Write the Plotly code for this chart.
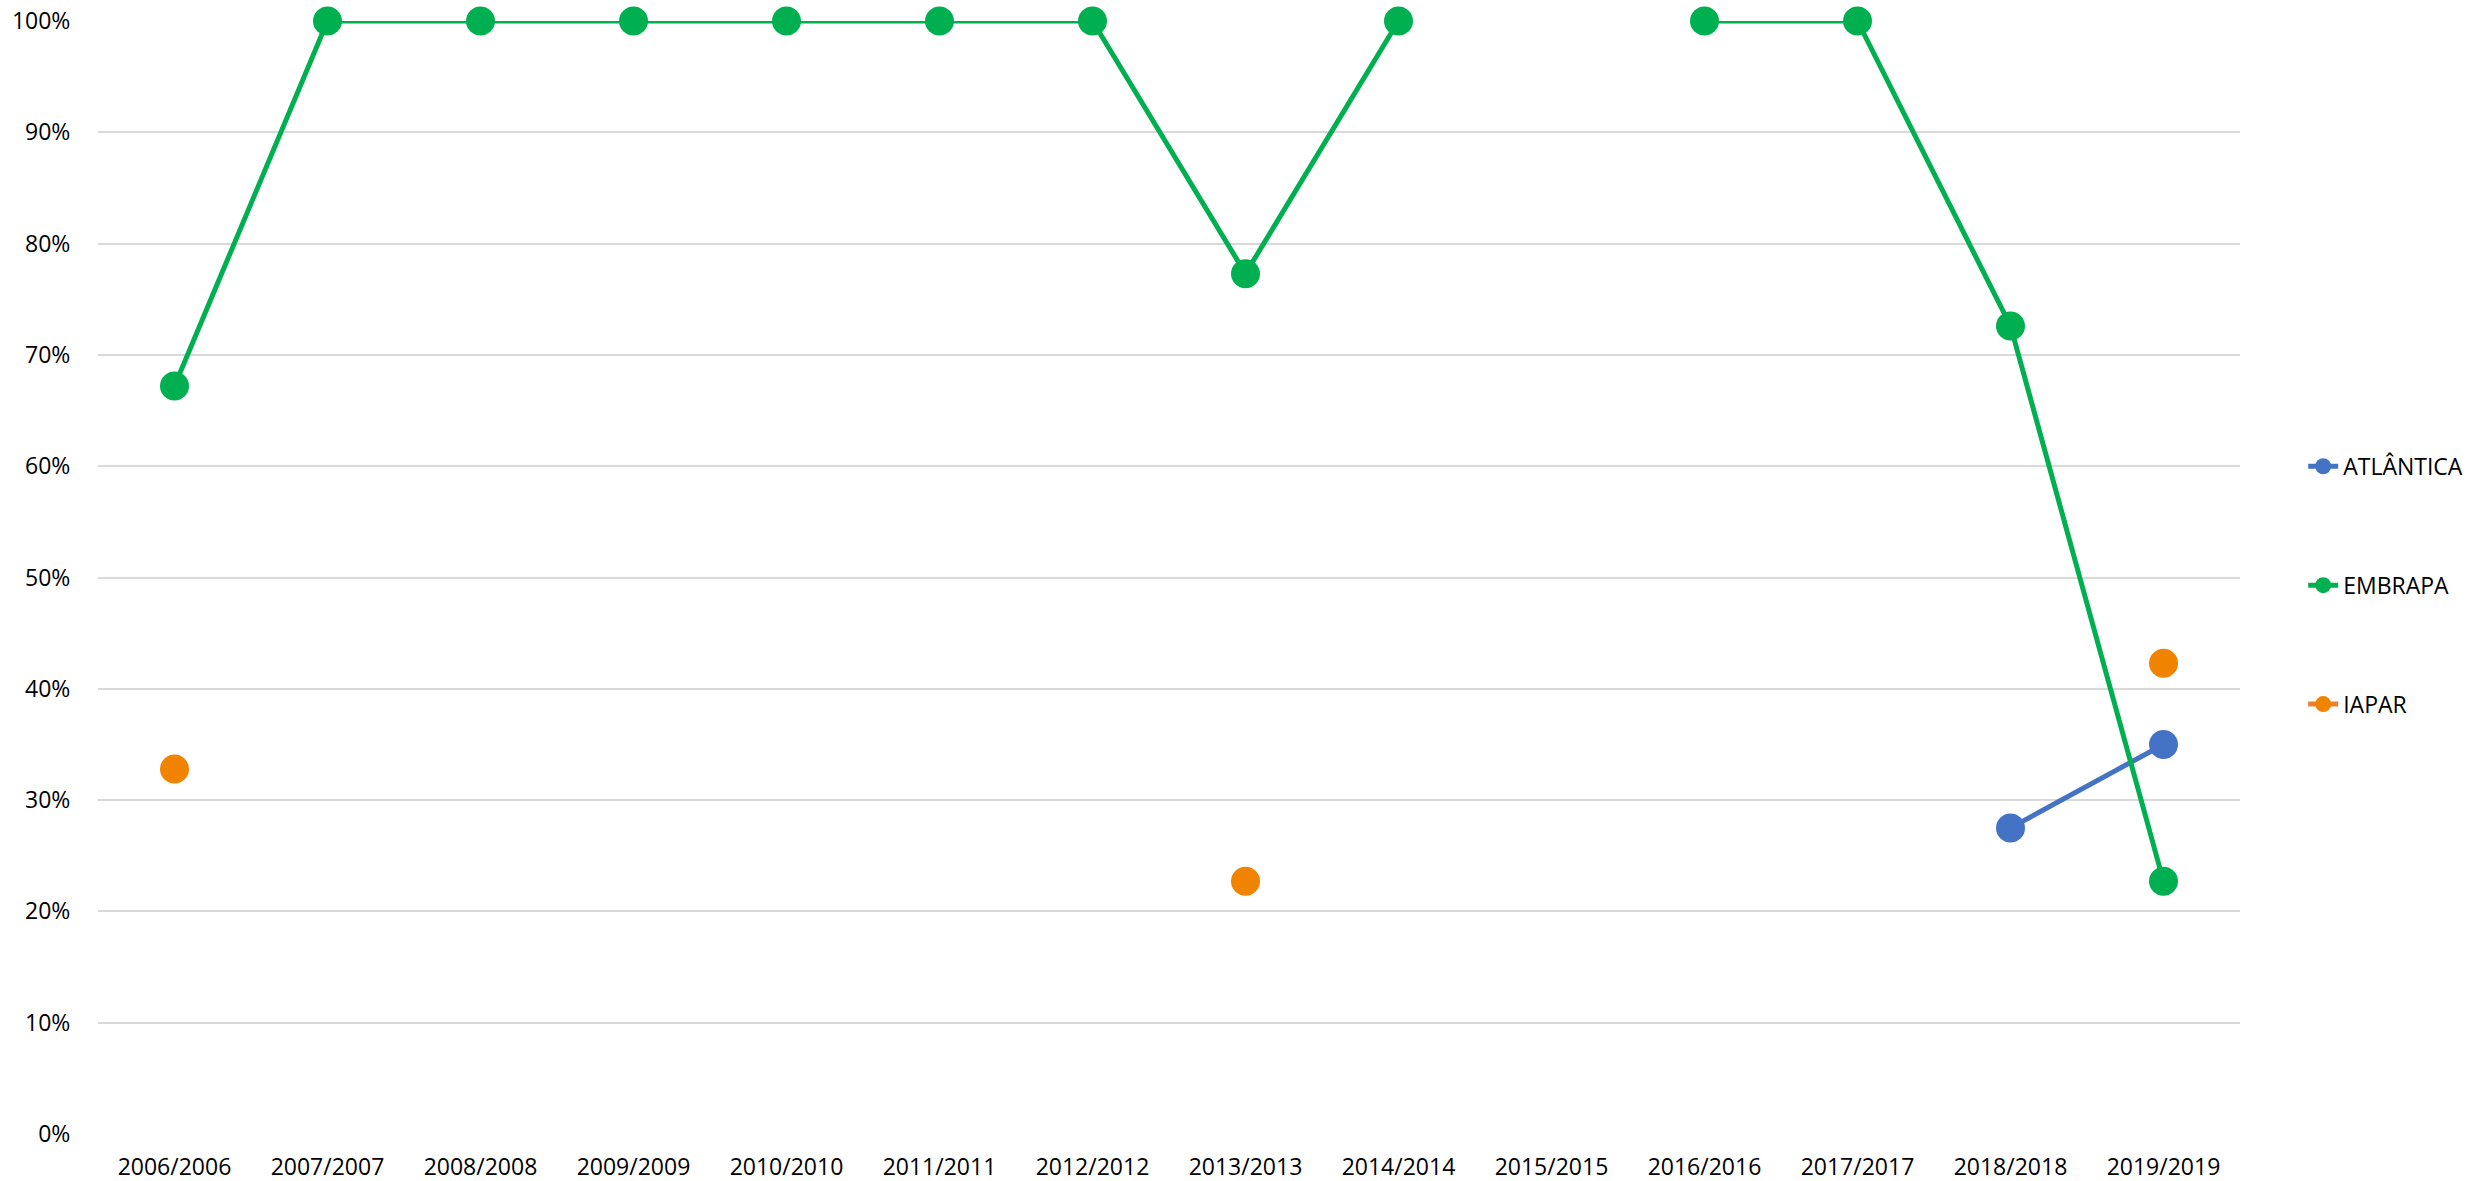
import plotly.graph_objects as go

categories = ["2006/2006", "2007/2007", "2008/2008", "2009/2009", "2010/2010",
              "2011/2011", "2012/2012", "2013/2013", "2014/2014", "2015/2015",
              "2016/2016", "2017/2017", "2018/2018", "2019/2019"]

atlantica = [None, None, None, None, None, None, None, None, None, None, None, None, 0.275, 0.350]
embrapa = [0.672, 1.0, 1.0, 1.0, 1.0, 1.0, 1.0, 0.773, 1.0, None, 1.0, 1.0, 0.726, 0.227]
iapar = [0.328, None, None, None, None, None, None, 0.227, None, None, None, None, None, 0.423]

y_ticks = [0, 0.1, 0.2, 0.3, 0.4, 0.5, 0.6, 0.7, 0.8, 0.9, 1.0]
y_tick_labels = ["0%", "10%", "20%", "30%", "40%", "50%", "60%", "70%", "80%", "90%", "100%"]

series = [
    ("ATLÂNTICA", atlantica, "#4472C4", "#4472C4"),
    ("EMBRAPA", embrapa, "#00B050", "#00B050"),
    ("IAPAR", iapar, "#ED7D31", "#F08300"),
]

fig = go.Figure()
for i, (name, vals, lc, mc) in enumerate(series):
    fig.add_trace(go.Scatter(
        x=categories, y=vals, name=name, mode="lines+markers",
        line=dict(color=lc, width=5),
        marker=dict(color=mc, size=29),
        connectgaps=False,
        cliponaxis=False,
        legendgroup=name,
    ))

font = dict(family="Open Sans", size=23, color="#000000")

fig.update_layout(
    width=2486, height=1181,
    margin=dict(l=98, r=246, t=21, b=47, autoexpand=False),
    paper_bgcolor="white", plot_bgcolor="white",
    font=font,
    showlegend=True,
    legend=dict(
        x=1.0295, xanchor="left", y=0.493, yanchor="middle",
        font=dict(family="Open Sans", size=23, color="#000000"),
        traceorder="grouped", tracegroupgap=86,
        bgcolor="rgba(0,0,0,0)",
    ),
    xaxis=dict(
        type="category", categoryorder="array", categoryarray=categories,
        range=[-0.5, len(categories) - 0.5],
        showgrid=False, zeroline=False, showline=False,
        ticks="outside", ticklen=12, tickcolor="rgba(0,0,0,0)",
        tickfont=font, automargin=False,
    ),
    yaxis=dict(
        range=[0, 1], tickvals=y_ticks, ticktext=y_tick_labels,
        showgrid=True, gridcolor="#D9D9D9", gridwidth=1.5,
        zeroline=False, showline=False,
        ticks="outside", ticklen=22, tickcolor="rgba(0,0,0,0)",
        tickfont=font, automargin=False, ticklabeloverflow="allow",
    ),
)

fig.write_html(
    "out.html",
    config={"displayModeBar": False},
    post_script="document.body.style.margin='0px';document.body.style.overflow='hidden';",
)
